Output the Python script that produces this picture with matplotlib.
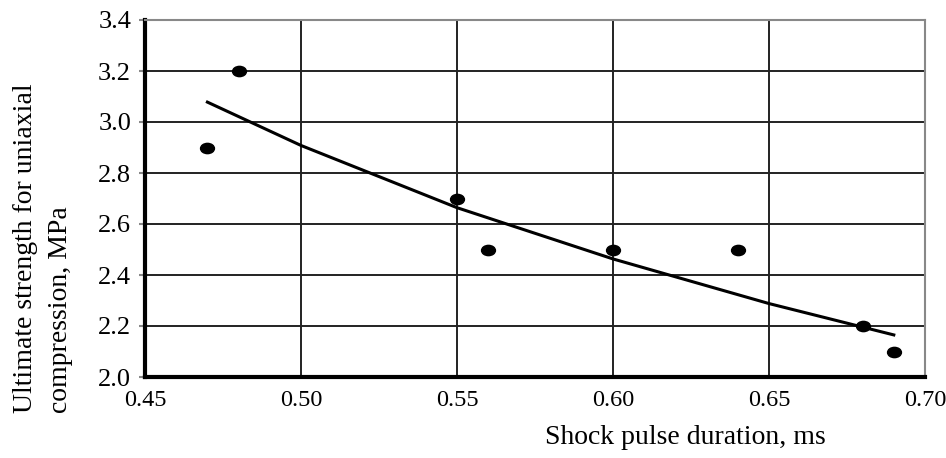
import matplotlib
matplotlib.use("Agg")
import matplotlib.pyplot as plt
import numpy as np
from matplotlib.path import Path
from matplotlib.transforms import Affine2D

# data
duration_ms = [0.47, 0.48, 0.55, 0.56, 0.60, 0.64, 0.68, 0.69]
strength_mpa = [2.9, 3.2, 2.7, 2.5, 2.5, 2.5, 2.2, 2.1]

# trend line values
trend_x = [0.47, 0.50, 0.55, 0.60, 0.65, 0.69]
trend_y = [3.078, 2.908, 2.664, 2.463, 2.288, 2.165]

x_ticks = [0.45, 0.50, 0.55, 0.60, 0.65, 0.70]
x_tick_labels = ["0.45", "0.50", "0.55", "0.60", "0.65", "0.70"]
y_ticks = [2.0, 2.2, 2.4, 2.6, 2.8, 3.0, 3.2, 3.4]
y_tick_labels = ["2.0", "2.2", "2.4", "2.6", "2.8", "3.0", "3.2", "3.4"]

plt.rcParams['font.family'] = ['Liberation Serif', 'DejaVu Serif']

fig = plt.figure(figsize=(9.46, 4.58), dpi=100)
ax = fig.add_axes([145/946, 1-377/458, 780/946, 357/458])

ax.set_xlim(0.45, 0.70)
ax.set_ylim(2.0, 3.4)
ax.set_xticks(x_ticks)
ax.set_xticklabels(x_tick_labels)
ax.set_yticks(y_ticks)
ax.set_yticklabels(y_tick_labels)

ax.grid(True, color='#222222', linewidth=1.4)
ax.set_axisbelow(True)

for s in ['top', 'right']:
    ax.spines[s].set_color('#888888')
    ax.spines[s].set_linewidth(1.5)
for s in ['left', 'bottom']:
    ax.spines[s].set_color('black')
    ax.spines[s].set_linewidth(3)

ax.tick_params(axis='y', length=4, width=1.5, color='#888888', pad=6, labelsize=19)
ax.tick_params(axis='x', length=0, pad=9, labelsize=17.5)

ellipse = Path.unit_circle().transformed(Affine2D().scale(1.35, 1.0))
ax.plot(duration_ms, strength_mpa, linestyle='none', marker=ellipse,
        markersize=10, color='black', zorder=3)

ax.plot(trend_x, trend_y, color='black', linewidth=2.2, zorder=3)

fig.text(685/946, 1-438/458, "Shock pulse duration, ms", ha='center', va='center', fontsize=20)
fig.text(13/946, 1-413/458, "Ultimate strength for uniaxial\ncompression, MPa",
         rotation=90, ha='left', va='top', multialignment='left', fontsize=20,
         linespacing=1.55, rotation_mode='anchor')

fig.savefig("out.png", dpi=100)
